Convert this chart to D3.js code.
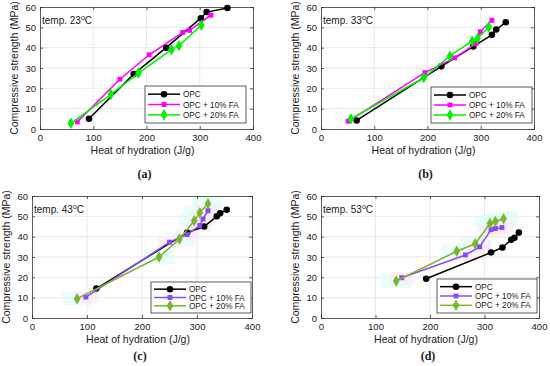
<!DOCTYPE html>
<html>
<head>
<meta charset="utf-8">
<script src="https://cdn.jsdelivr.net/npm/d3@7"></script>
<style>
body{margin:0;background:#fff}
text{font-family:"Liberation Sans",Arial,sans-serif;fill:#1a1a1a}
</style>
</head>
<body>
<svg id="fig" width="550" height="366"></svg>
<script>
var seriesNames = ["OPC", "OPC + 10% FA", "OPC + 20% FA"];
var temps = ["23", "33", "43", "53"];
var captions = ["(a)", "(b)", "(c)", "(d)"];
var xTicks = [0, 100, 200, 300, 400];
var yTicks = [0, 10, 20, 30, 40, 50, 60];

// [heat of hydration J/g, compressive strength MPa]
var opcA = [[92,5],[176,27],[237,40],[302,54.5],[313,57.5],[352,59.5]];
var fa10A = [[70,3.5],[150,24.5],[205,36.5],[268,47.5],[281,48.5],[321,56]];
var fa20A = [[58,2.8],[133,17],[185,27.5],[247,39],[261,41],[303,51]];

var opcB = [[67,4.2],[226,30.8],[286,40.6],[321,46.3],[329,48.9],[347,52.5]];
var fa10B = [[51,3.8],[195,27.7],[251,35],[291,42],[299,47.8],[321,53.5]];
var fa20B = [[56,5],[193,25.2],[242,35.8],[284,43.3],[294,44.5],[315,50.2]];

var opcC = [[117,14.5],[282,42],[313,45],[336,50],[342,51.5],[354,53.2]];
var fa10C = [[98,10.3],[250,37.3],[282,41],[305,45.5],[311,48.7],[320,52.8]];
var fa20C = [[82,9.5],[231,30],[268,38.8],[295,47.8],[305,51.8],[320,56.2]];

var opcD = [[193,19.3],[312,32.2],[333,34.7],[349,38.5],[355,39.5],[363,42]];
var fa10D = [[148,19.8],[265,31],[291,35],[312,43.5],[320,44],[332,44.5]];
var fa20D = [[138,18.2],[249,32.8],[283,36.5],[310,46.5],[320,47.5],[335,48.8]];

var colorsTop = ["#000000", "#ff00ff", "#00f000"];
var colorsBottom = ["#000000", "#8a4af3", "#77b82a"];
var symbols = [d3.symbolCircle, d3.symbolSquare, d3.symbolDiamond];
var symSize = [34, 24, 38];

var panels = [
  {x0:40, x1:253, y0:7, y1:129, data:[opcA,fa10A,fa20A], colors:colorsTop, leg:[145,86,101,37], glow:false},
  {x0:321, x1:534, y0:7, y1:129, data:[opcB,fa10B,fa20B], colors:colorsTop, leg:[431,87,101,36], glow:false},
  {x0:32, x1:252, y0:196, y1:318, data:[opcC,fa10C,fa20C], colors:colorsBottom, leg:[151,282,100,31], glow:true},
  {x0:321, x1:539, y0:196, y1:318, data:[opcD,fa10D,fa20D], colors:colorsBottom, leg:[437,279,100,34], glow:true}
];

var svg = d3.select("#fig");

panels.forEach(function(p, i){
  var x = d3.scaleLinear().domain([0,400]).range([p.x0, p.x1]);
  var y = d3.scaleLinear().domain([0,60]).range([p.y1, p.y0]);
  var g = svg.append("g");

  // grid
  g.selectAll(".gx").data(xTicks.slice(1,-1)).enter().append("line")
    .attr("x1", d => x(d)).attr("x2", d => x(d))
    .attr("y1", p.y0).attr("y2", p.y1)
    .attr("stroke", "#e3e3e3").attr("stroke-width", 0.8);
  g.selectAll(".gy").data(yTicks.slice(1,-1)).enter().append("line")
    .attr("x1", p.x0).attr("x2", p.x1)
    .attr("y1", d => y(d)).attr("y2", d => y(d))
    .attr("stroke", "#e3e3e3").attr("stroke-width", 0.8);

  // faint shaded boxes behind the points (as in the lower panels)
  if(p.glow){
    [[2,"#dcfbf8",30,14],[1,"#fbe6fb",24,12]].forEach(function(s){
      g.selectAll(null).data(p.data[s[0]]).enter().append("rect")
        .attr("x", d => x(d[0]) - s[2]/2).attr("y", d => y(d[1]) - s[3]/2)
        .attr("width", s[2]).attr("height", s[3])
        .attr("fill", s[1]).attr("opacity", 0.6);
    });
  }

  // axes
  g.append("g").attr("transform", "translate(0," + p.y1 + ")")
    .call(d3.axisBottom(x).tickValues(xTicks).tickSize(-3).tickPadding(5));
  g.append("g").attr("transform", "translate(" + p.x0 + ",0)")
    .call(d3.axisLeft(y).tickValues(yTicks).tickSize(-3).tickPadding(4));
  g.append("g").attr("transform", "translate(0," + p.y0 + ")")
    .call(d3.axisTop(x).tickValues(xTicks).tickSize(-3).tickFormat(""));
  g.append("g").attr("transform", "translate(" + p.x1 + ",0)")
    .call(d3.axisRight(y).tickValues(yTicks).tickSize(-3).tickFormat(""));
  g.selectAll(".domain, .tick line").attr("stroke", "#333").attr("stroke-width", 0.8);
  g.selectAll(".tick text").style("font-size", "9.5px").style("font-family", '"Liberation Sans",Arial,sans-serif').attr("fill", "#222");

  // series
  var line = d3.line().x(d => x(d[0])).y(d => y(d[1]));
  p.data.forEach(function(s, k){
    g.append("path").datum(s).attr("d", line)
      .attr("fill", "none").attr("stroke", p.colors[k]).attr("stroke-width", 1.5);
    g.selectAll(null).data(s).enter().append("path")
      .attr("d", d3.symbol().type(symbols[k]).size(symSize[k]))
      .attr("transform", d => "translate(" + x(d[0]) + "," + y(d[1]) + ")")
      .attr("fill", p.colors[k]);
  });

  // legend
  var L = p.leg;
  var lg = g.append("g");
  lg.append("rect").attr("x", L[0]).attr("y", L[1]).attr("width", L[2]).attr("height", L[3])
    .attr("fill", "#fff").attr("stroke", "#333").attr("stroke-width", 0.8);
  var rowH = (L[3] - 6) / 3;
  seriesNames.forEach(function(n, k){
    var ry = L[1] + 3 + rowH * (k + 0.5);
    lg.append("line").attr("x1", L[0] + 3).attr("x2", L[0] + 35).attr("y1", ry).attr("y2", ry)
      .attr("stroke", p.colors[k]).attr("stroke-width", 1.5);
    lg.append("path").attr("d", d3.symbol().type(symbols[k]).size(symSize[k]))
      .attr("transform", "translate(" + (L[0] + 19) + "," + ry + ")").attr("fill", p.colors[k]);
    lg.append("text").attr("x", L[0] + 38).attr("y", ry + 3).style("font-size", "8.2px").text(n);
  });

  // temperature note
  var t = g.append("text").attr("x", p.x0 + 2).attr("y", p.y0 + 17).style("font-size", "10px");
  t.append("tspan").text("temp. " + temps[i]);
  t.append("tspan").attr("dy", -4).style("font-size", "7px").text("o");
  t.append("tspan").attr("dy", 4).text("C");

  // axis titles
  var cx = (p.x0 + p.x1) / 2, cy = (p.y0 + p.y1) / 2;
  g.append("text").attr("x", cx - 4).attr("y", p.y1 + 25).attr("text-anchor", "middle")
    .style("font-size", "10.5px").text("Heat of hydration (J/g)");
  g.append("text").attr("transform", "translate(" + (p.x0 - 22) + "," + cy + ") rotate(-90)")
    .attr("text-anchor", "middle").style("font-size", "10.5px").text("Compressive strength (MPa)");

  // caption
  g.append("text").attr("x", cx - 2).attr("y", p.y1 + (i < 2 ? 49 : 42)).attr("text-anchor", "middle")
    .style("font-family", '"Liberation Serif","Times New Roman",serif').style("font-weight", "bold")
    .style("font-size", "12px").text(captions[i]);
});
</script>
</body>
</html>
